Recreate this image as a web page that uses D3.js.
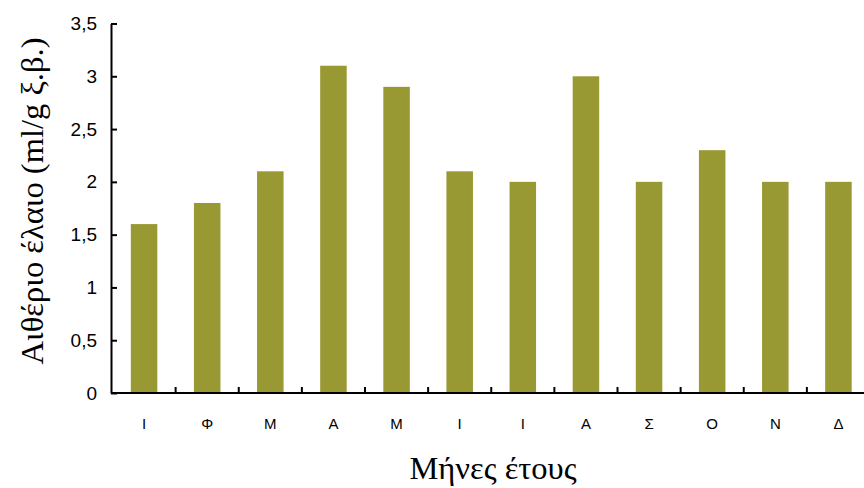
<!DOCTYPE html>
<html><head><meta charset="utf-8">
<script src="https://cdn.jsdelivr.net/npm/d3@7"></script>
<style>body{margin:0;background:#fff}svg{display:block}</style>
</head><body>
<script>
const months = ["Ι","Φ","Μ","Α","Μ","Ι","Ι","Α","Σ","Ο","Ν","Δ"];
const values = [1.6,1.8,2.1,3.1,2.9,2.1,2.0,3.0,2.0,2.3,2.0,2.0];
const yTicks = [0,0.5,1,1.5,2,2.5,3,3.5];
const yTitle = "Αιθέριο έλαιο (ml/g ξ.β.)";
const xTitle = "Μήνες έτους";

const W=864,H=488;
const svg=d3.select("body").append("svg").attr("width",W).attr("height",H);
const x0=111, x1=870, yTop=23.5, yBot=393;
const x=d3.scaleBand().domain(d3.range(months.length)).range([x0+1.5,x1]).paddingInner(0.58).paddingOuter(0.29);
const y=d3.scaleLinear().domain([0,3.5]).range([yBot,yTop]);

svg.append("g").selectAll("rect").data(values).join("rect")
  .attr("x",(d,i)=>x(i)).attr("width",x.bandwidth())
  .attr("y",d=>y(d)).attr("height",d=>yBot-y(d)).attr("fill","#999933");

// y axis
const ya=svg.append("g").attr("transform",`translate(${x0},0)`)
  .call(d3.axisLeft(y).tickValues(yTicks).tickSizeInner(-6).tickSizeOuter(0).tickPadding(14)
    .tickFormat(d=>String(d).replace(".",",")));
ya.select(".domain").attr("stroke","#000").attr("stroke-width",2);
ya.selectAll(".tick line").attr("stroke","#000").attr("stroke-width",2);
ya.selectAll(".tick text").attr("font-family","'Liberation Sans',Arial,sans-serif").attr("font-size",19).attr("fill","#000");

// x axis
const step=x.step();
const xb=svg.append("g").attr("transform",`translate(0,${yBot})`);
xb.append("line").attr("x1",x0).attr("x2",x1).attr("stroke","#000").attr("stroke-width",2);
const bounds=d3.range(1,months.length).map(i=>x(i)-x.paddingInner()*step/2 );
xb.selectAll("line.t").data(bounds).join("line").attr("class","t")
  .attr("x1",d=>d).attr("x2",d=>d).attr("y1",0).attr("y2",-6).attr("stroke","#000").attr("stroke-width",2);
xb.selectAll("text").data(months).join("text")
  .attr("x",(d,i)=>x(i)+x.bandwidth()/2).attr("y",35.5)
  .attr("text-anchor","middle").attr("font-family","'Liberation Sans',Arial,sans-serif").attr("font-size",15).attr("fill","#000")
  .text(d=>d);

svg.append("text").attr("transform",`translate(43,201) rotate(-90)`)
  .attr("text-anchor","middle").attr("font-family","'Liberation Serif','Times New Roman',serif").attr("font-size",32.5).attr("fill","#000")
  .text(yTitle);
svg.append("text").attr("x",493).attr("y",479)
  .attr("text-anchor","middle").attr("font-family","'Liberation Serif','Times New Roman',serif").attr("font-size",32.5).attr("fill","#000")
  .text(xTitle);
</script>
</body></html>
